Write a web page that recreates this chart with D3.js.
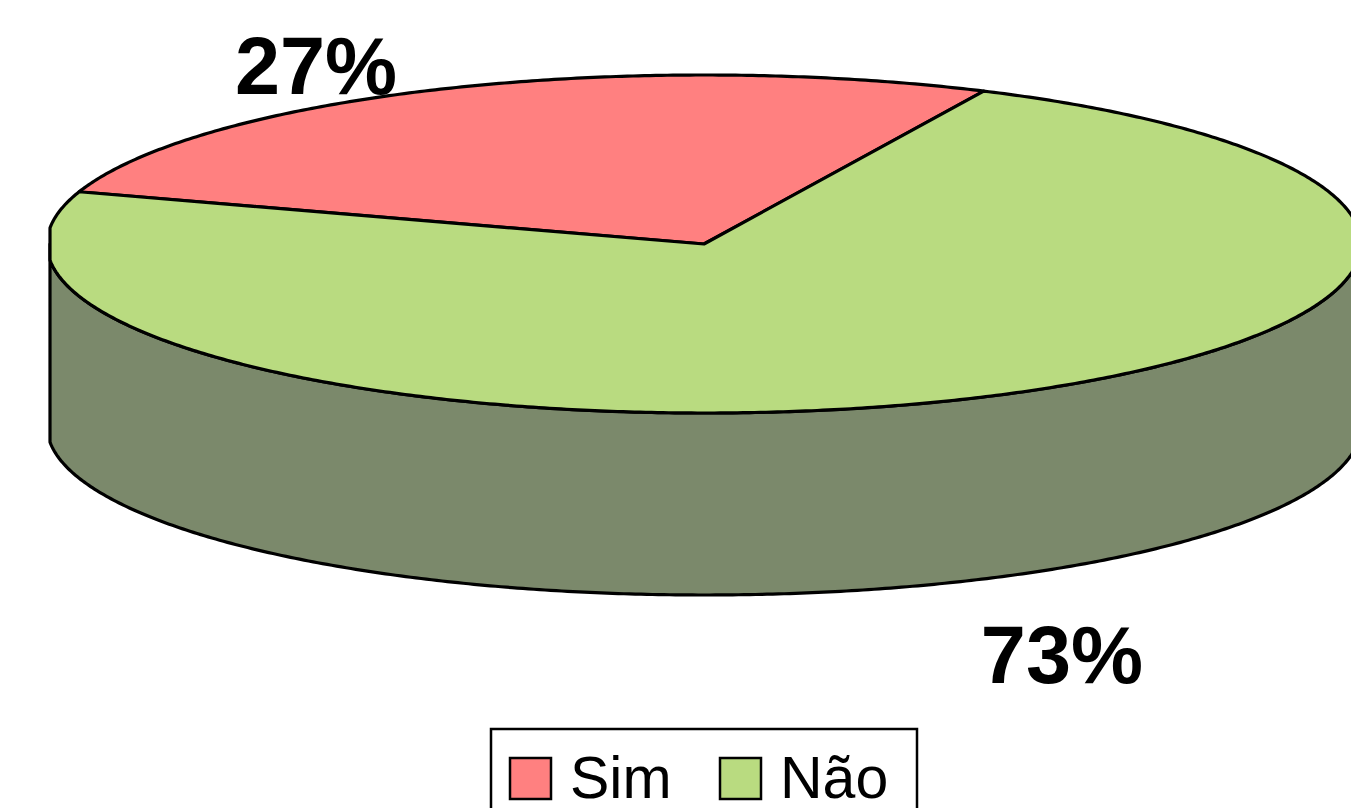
<!DOCTYPE html>
<html>
<head>
<meta charset="utf-8">
<script src="https://cdn.jsdelivr.net/npm/d3@7"></script>
<style>
  body { margin: 0; background: #fff; overflow: hidden; }
  svg { display: block; }
</style>
</head>
<body>
<script>
// chart data
const categories = ["Sim", "Não"];
const values = [27, 73];
const sliceColors = ["#ff8080", "#b9db80"];
const sideColors = ["#9a6060", "#7b896b"];

const width = 1351, height = 808;
const cx = 704, cy = 244, rx = 657, ry = 169, depth = 182;
const clipL = 50, clipR = 1354;
const deg = Math.PI / 180;

const color = d3.scaleOrdinal().domain(categories).range(sliceColors);
const sideColor = d3.scaleOrdinal().domain(categories).range(sideColors);

const svg = d3.select("body").append("svg")
    .attr("width", width)
    .attr("height", height);

const pie = d3.pie()
    .sort(null)
    .value(d => d.value)
    .startAngle(-72 * deg)
    .endAngle(288 * deg);

const arcs = pie(categories.map((c, i) => ({name: c, value: values[i]})));

// project an angle (clockwise from north) onto the ellipse, with x clipped like the plot area
function proj(a, dy = 0) {
  let x = cx + rx * Math.sin(a);
  x = Math.max(clipL, Math.min(clipR, x));
  return [x, cy - ry * Math.cos(a) + dy];
}
function arcPts(a0, a1, dy = 0) {
  const n = Math.max(2, Math.ceil(Math.abs(a1 - a0) / (0.5 * deg)));
  return d3.range(n + 1).map(i => proj(a0 + (a1 - a0) * i / n, dy));
}
const line = d3.line();

const g = svg.append("g")
    .attr("stroke", "#000")
    .attr("stroke-width", 3.2)
    .attr("stroke-linejoin", "round");

// side wall (front half only)
arcs.forEach(d => {
  const a0 = Math.max(d.startAngle, 90 * deg), a1 = Math.min(d.endAngle, 270 * deg);
  if (a1 <= a0) return;
  const pts = arcPts(a0, a1).concat(arcPts(a1, a0, depth));
  g.append("path")
      .attr("d", line(pts) + "Z")
      .attr("fill", sideColor(d.data.name));
});

// top face
g.selectAll(".slice")
  .data(arcs)
  .join("path")
    .attr("class", "slice")
    .attr("fill", d => color(d.data.name))
    .attr("d", d => line([[cx, cy]].concat(arcPts(d.startAngle, d.endAngle))) + "Z");

// percentage labels
const labelOffset = {"Sim": [-127, 5], "Não": [97, 102]};
svg.selectAll(".lbl")
  .data(arcs)
  .join("text")
    .attr("class", "lbl")
    .attr("font-family", "Arial, 'Liberation Sans', sans-serif")
    .attr("font-weight", "bold")
    .attr("font-size", 81)
    .attr("text-anchor", "middle")
    .attr("x", d => {
      const m = (d.startAngle + d.endAngle) / 2;
      return proj(m)[0] + labelOffset[d.data.name][0];
    })
    .attr("y", d => {
      const m = (d.startAngle + d.endAngle) / 2;
      const p = proj(m, Math.cos(m) < 0 ? depth : 0);
      return p[1] + labelOffset[d.data.name][1];
    })
    .text(d => `${Math.round(d.value / d3.sum(values) * 100)}%`);

// legend
const legend = svg.append("g");
legend.append("rect")
    .attr("x", 491).attr("y", 729)
    .attr("width", 426).attr("height", 100)
    .attr("fill", "#fff")
    .attr("stroke", "#000")
    .attr("stroke-width", 2.5);

const legendX = d3.scalePoint().domain(categories).range([510, 720]);
const item = legend.selectAll(".item")
  .data(categories)
  .join("g")
    .attr("class", "item")
    .attr("transform", d => `translate(${legendX(d)},758)`);
item.append("rect")
    .attr("width", 41).attr("height", 41)
    .attr("fill", d => color(d))
    .attr("stroke", "#000")
    .attr("stroke-width", 2.5);
item.append("text")
    .attr("x", 60).attr("y", 40)
    .attr("font-family", "Arial, 'Liberation Sans', sans-serif")
    .attr("font-size", 59)
    .text(d => d);
</script>
</body>
</html>
